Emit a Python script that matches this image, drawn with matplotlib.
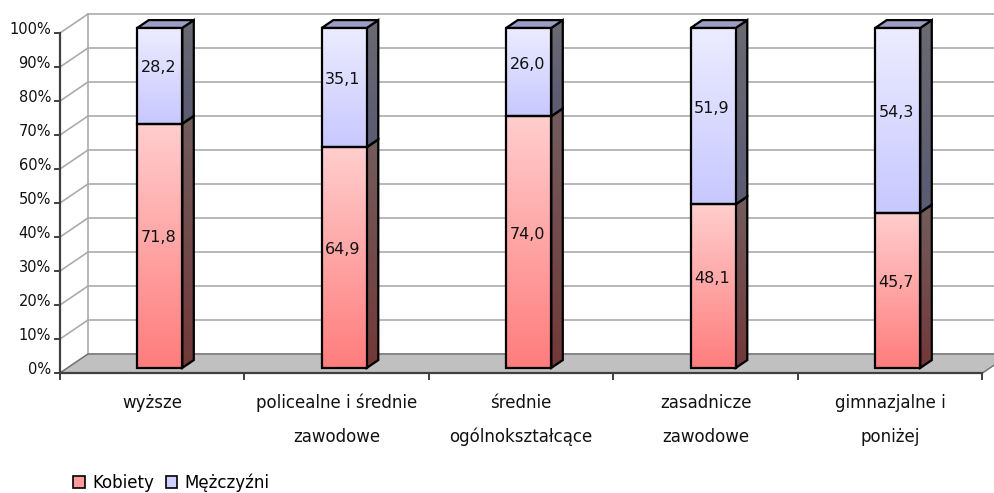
import numpy as np
import matplotlib
matplotlib.use('Agg')
import matplotlib.pyplot as plt
from matplotlib.patches import Polygon, Patch

# ---------------- data ----------------
categories = [["wyższe"],
              ["policealne i średnie", "zawodowe"],
              ["średnie", "ogólnokształcące"],
              ["zasadnicze", "zawodowe"],
              ["gimnazjalne i", "poniżej"]]
kobiety = [71.8, 64.9, 74.0, 48.1, 45.7]
mezczyzni = [28.2, 35.1, 26.0, 51.9, 54.3]
series_names = ["Kobiety", "Mężczyźni"]
yticks = [0, 10, 20, 30, 40, 50, 60, 70, 80, 90, 100]
ytick_labels = [f"{v}%" for v in yticks]

# ---------------- styles ----------------
plt.rcParams['font.family'] = ['DejaVu Sans']
W, H = 995, 493
fig = plt.figure(figsize=(W / 100, H / 100), dpi=100)
ax = fig.add_axes([0, 0, 1, 1])
ax.set_xlim(-0.8252, 4.5678)
ax.set_ylim(-35.29, 109.71)
ax.axis('off')

PXX = W / (4.5678 + 0.8252)   # px per category unit
PXY = H / (109.71 + 35.29)    # px per percent
DX = 28 / PXX                 # depth offset (full depth)
DY = 19 / PXY


def P(x, y, d):
    return (x + d * DX, y + d * DY)


n = len(kobiety)
x0, x1 = -0.5, n - 0.5
grid_c = '#ABABAB'

# back wall gridlines & left wall diagonals
for v in yticks:
    ax.plot(*zip(P(x0, v, 1), P(x1 + 0.3, v, 1)), color=grid_c, lw=1.2, zorder=1)
    ax.plot(*zip(P(x0, v, 0), P(x0, v, 1)), color=grid_c, lw=1.2, zorder=1)
ax.plot(*zip(P(x0, 0, 1), P(x0, 100, 1)), color=grid_c, lw=1.2, zorder=1)

# floor
floor = Polygon([P(x0, 0, 0), P(x1, 0, 0), P(x1, 0, 1), P(x0, 0, 1)],
                closed=True, facecolor='#C0C0C0', edgecolor='#707070', lw=1, zorder=2)
ax.add_patch(floor)

# axes lines
axis_c = '#404040'
ax.plot([x0, x0], [0, 100], color=axis_c, lw=1.6, zorder=3)
ax.plot([x0, x1], [0, 0], color=axis_c, lw=1.6, zorder=3)
for v, lab in zip(yticks, ytick_labels):
    ax.plot([x0 - 5 / PXX, x0], [v, v], color=axis_c, lw=1.4, zorder=3)
    ax.text(x0 - 9 / PXX, v + 4 / PXY, lab, ha='right', va='center', fontsize=10.5, color='#111111')
for k in range(n + 1):
    ax.plot([x0 + k, x0 + k], [0, -6 / PXY], color=axis_c, lw=1.4, zorder=3)

for i, lines in enumerate(categories):
    for j, t in enumerate(lines):
        ax.text(i, -(30 + 34 * j) / PXY, t, ha='center', va='center', fontsize=12, color='#111111')


def grad_img(top, bot, N=64):
    top = np.array(top) / 255.0
    bot = np.array(bot) / 255.0
    t = np.linspace(0, 1, N)[:, None]
    img = top[None, :] * (1 - t) + bot[None, :] * t
    return img[:, None, :]


def face(poly_pts, top, bot, z):
    xs = [p[0] for p in poly_pts]
    ys = [p[1] for p in poly_pts]
    poly = Polygon(poly_pts, closed=True, facecolor='none', edgecolor='black', lw=1.6, zorder=z + 0.1)
    ax.add_patch(poly)
    im = ax.imshow(grad_img(top, bot), extent=(min(xs), max(xs), min(ys), max(ys)),
                   origin='upper', aspect='auto', interpolation='bilinear', zorder=z)
    clip = Polygon(poly_pts, closed=True, transform=ax.transData)
    im.set_clip_path(clip)


hw = 0.122
d0, d1 = 0.27, 0.68
styles = {
    0: dict(top=(255, 205, 205), bot=(255, 125, 125)),
    1: dict(top=(236, 236, 255), bot=(200, 200, 255)),
}
side_f = 0.45

for i in range(n):
    segs = [(0, kobiety[i], 0), (kobiety[i], kobiety[i] + mezczyzni[i], 1)]
    for (y0, y1, s) in segs:
        st = styles[s]
        z = 5 + i
        side = [P(i + hw, y0, d0), P(i + hw, y0, d1), P(i + hw, y1, d1), P(i + hw, y1, d0)]
        face(side, tuple(c * side_f for c in st['top']), tuple(c * side_f for c in st['bot']), z)
        front = [P(i - hw, y0, d0), P(i + hw, y0, d0), P(i + hw, y1, d0), P(i - hw, y1, d0)]
        face(front, st['top'], st['bot'], z + 0.2)
        val = y1 - y0
        cx, cy = P(i, (y0 + y1) / 2, d0)
        ax.text(cx - 1.5 / PXX, cy + 8 / PXY, f"{val:.1f}".replace('.', ','), ha='center', va='center',
                fontsize=11.5, color='#111111', zorder=20)
    # top face
    ytop = kobiety[i] + mezczyzni[i]
    topf = [P(i - hw, ytop, d0), P(i + hw, ytop, d0), P(i + hw, ytop, d1), P(i - hw, ytop, d1)]
    ax.add_patch(Polygon(topf, closed=True, facecolor='#9C9CC4', edgecolor='black', lw=1.6, zorder=5 + i + 0.3))

handles = [Patch(facecolor='#FF9A9A', edgecolor='black', lw=1.2, label=series_names[0]),
           Patch(facecolor='#D0D0FF', edgecolor='black', lw=1.2, label=series_names[1])]
fig.legend(handles=handles, loc='lower left', bbox_to_anchor=(63 / W, -9 / H), ncol=2, frameon=False,
           fontsize=12, handlelength=0.7, handleheight=0.7, handletextpad=0.45, columnspacing=0.7,
           borderaxespad=0.2)

fig.savefig('out.png', dpi=100)
